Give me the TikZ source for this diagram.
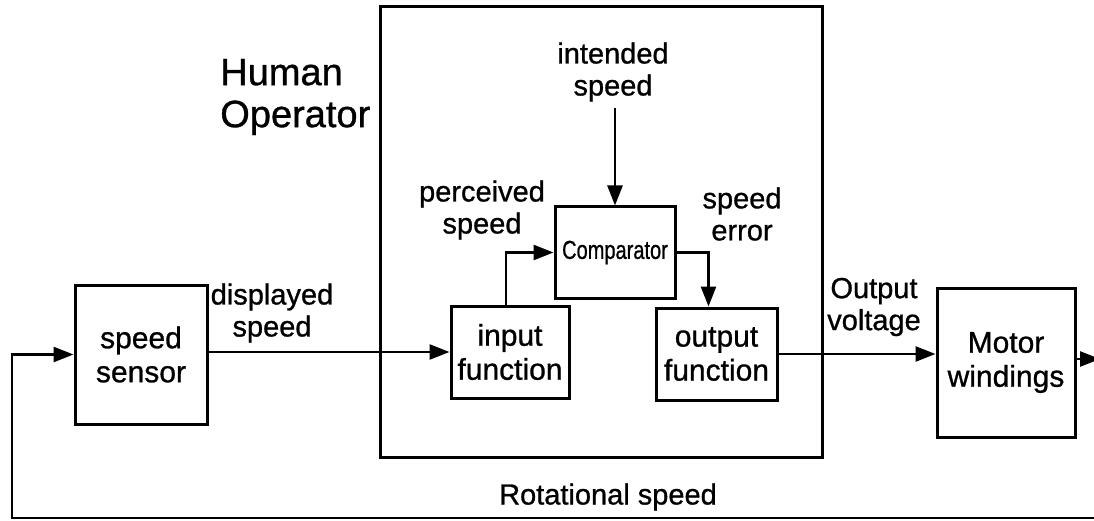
\documentclass[tikz,border=0pt]{standalone}
\usepackage{fontspec}
\setmainfont{Liberation Sans}[FakeBold=0.9]
\usetikzlibrary{positioning,arrows.meta,calc}

\begin{document}
\begin{tikzpicture}[
    x=1pt, y=-1pt,
    box/.style={draw, line width=3pt, align=center, font=\fontsize{30}{34}\selectfont},
    lbl/.style={align=center, font=\fontsize{29}{32}\selectfont, inner sep=0pt},
    >={Triangle[length=20pt,width=15pt]},
    line width=2.6pt
  ]
    \useasboundingbox (0,0) rectangle (1094,521);

    % human operator frame
    \node[box, minimum width=442pt, minimum height=450pt] (human) at (601,232) {};
    \node[lbl, align=left, font=\fontsize{38}{42}\selectfont, anchor=west] (hlbl) at (219,97) {Human\\Operator};

    % blocks
    \node[box, minimum width=132pt, minimum height=139pt] (sensor) at (141,354.5) {speed\\sensor};
    \node[box, minimum width=118pt, minimum height=92pt] (input) at (510,352) {input\\function};
    \node[box, minimum width=120pt, minimum height=91pt] (comp) at (615,252.5) {\scalebox{0.77}[1]{\fontsize{26}{30}\selectfont Comparator}};
    \node[box, minimum width=121pt, minimum height=92pt] (output) at (716.5,354) {output\\function};
    \node[box, minimum width=138pt, minimum height=149pt] (motor) at (1006,362.5) {Motor\\windings};

    % labels
    \node[lbl] (intlbl) at (613,72) {intended\\speed};
    \node[lbl] (perclbl) at (482,210) {perceived\\speed};
    \node[lbl] (errlbl) at (742,214) {speed\\error};
    \node[lbl] (displbl) at (272,313) {displayed\\speed};
    \node[lbl] (voltlbl) at (874,307) {Output\\voltage};
    \node[lbl] (rotlbl) at (608,497) {Rotational speed};

    % free ends
    \coordinate (intop) at (615,108);
    \coordinate (outR) at (1100,359);
    \coordinate (fbR) at (1094,518);
    \coordinate (fbL) at (12,518);

    % connectors
    \draw[->] (intop) -- (comp.north);
    \draw[->] ([xshift=-4pt]input.north) |- (comp.west);
    \draw[->] (comp.east) -| ([xshift=-8pt]output.north);
    \draw[->] (sensor.east |- input.west) -- (input.west);
    \draw[->] (output.east) -- (output.east -| motor.west);
    \draw[->] (motor.east |- outR) -- (outR);
    \draw[->] (fbR) -- (fbL) |- (sensor.west);
  \end{tikzpicture}
\end{document}
